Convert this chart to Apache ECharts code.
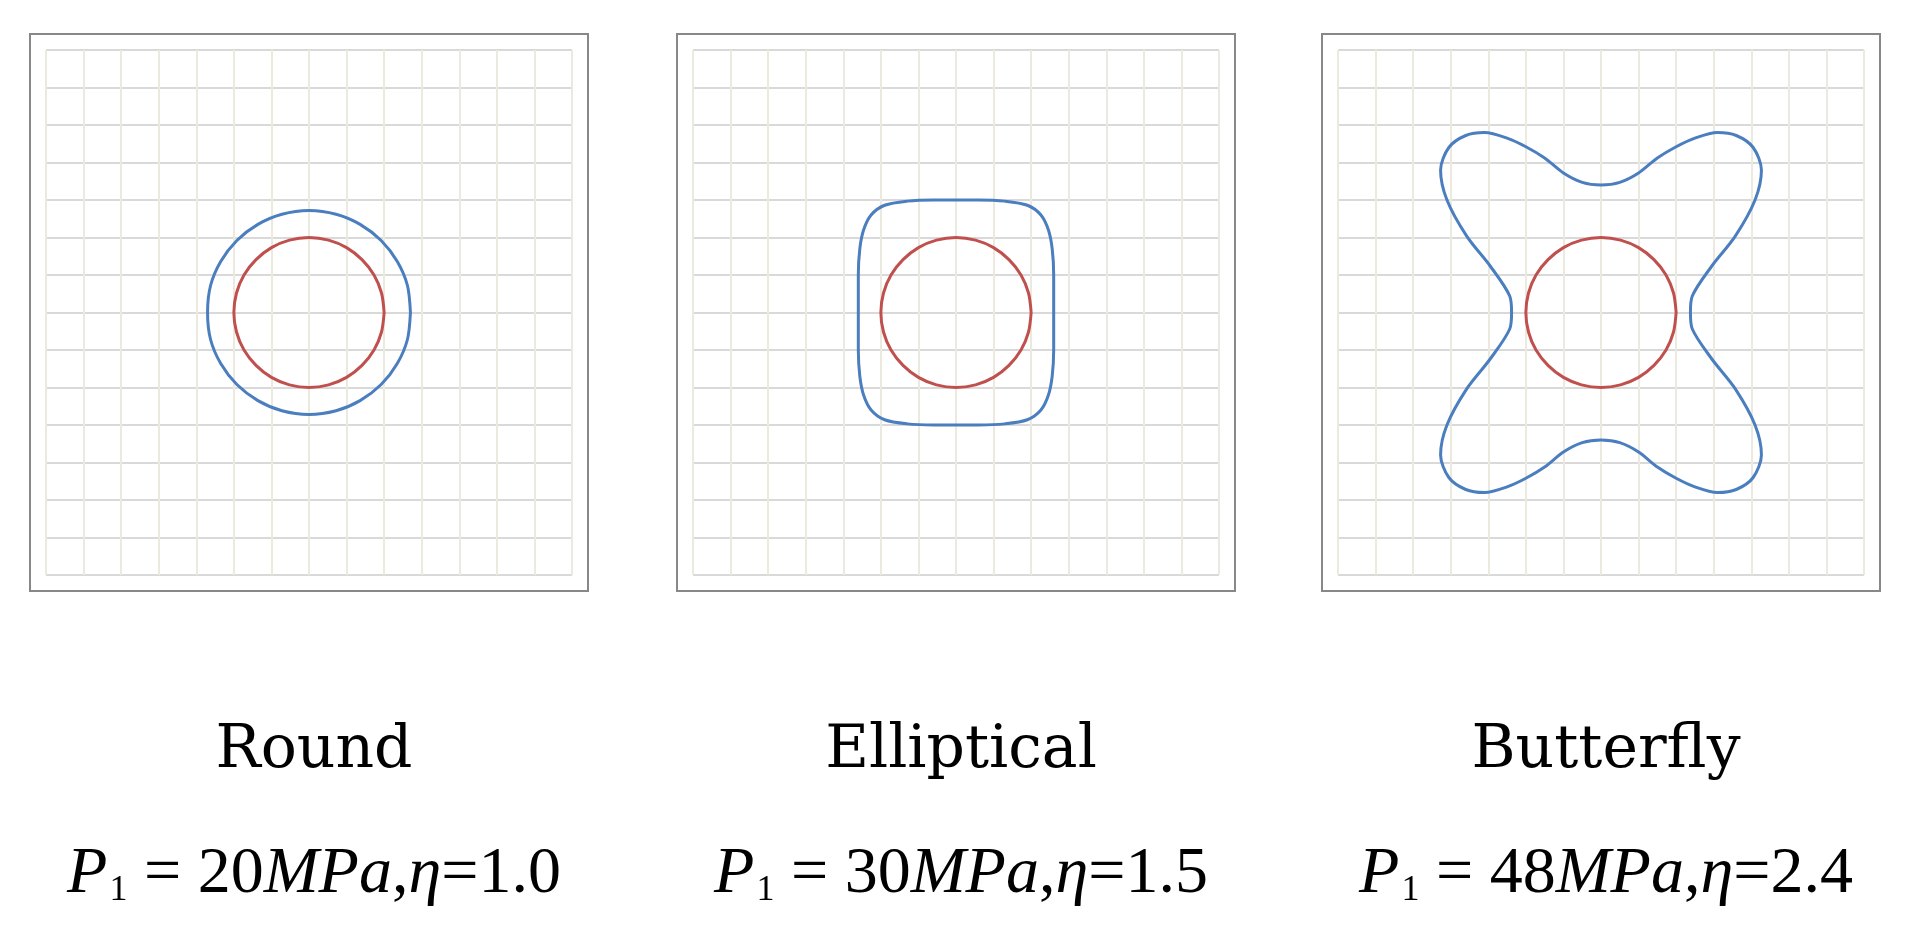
<!DOCTYPE html>
<html>
<head>
<meta charset="utf-8">
<script src="https://cdn.jsdelivr.net/npm/echarts@6/dist/echarts.min.js"></script>
<style>html,body{margin:0;padding:0;background:#fff}#main{width:1916px;height:926px}</style>
</head>
<body>
<div id="main"></div>
<script>
// first-quadrant outlines, in grid units (one cell = 1)
const holeQuad = [[2, 0], [1.93, 0.52], [1.73, 1], [1.41, 1.41], [1, 1.73], [0.52, 1.93], [0, 2]]
const roundQuad = [[2.7, 0], [2.62, 0.72], [2.35, 1.36], [1.92, 1.92], [1.36, 2.35], [0.72, 2.62], [0, 2.72]]
const ellipQuad = [[2.6, 0], [2.6, 1.0], [2.56, 1.7], [2.46, 2.2], [2.26, 2.6], [1.9, 2.86], [1.3, 2.97], [0.6, 3.0], [0, 3.0]]
const butterQuad = [[2.38, 0], [2.43, 0.44], [2.95, 1.24], [3.57, 2.03], [4.1, 3.0], [4.27, 3.8], [4.05, 4.4],
    [3.6, 4.72], [3.1, 4.8], [2.5, 4.65], [2.0, 4.42], [1.5, 4.12], [1.0, 3.72], [0.5, 3.47], [0, 3.4]]

const names = ['Round', 'Elliptical', 'Butterfly']
const pressures = ['20', '30', '48']
const etas = ['1.0', '1.5', '2.4']
const outlines = [roundQuad, ellipQuad, butterQuad]

// mirror a quadrant into a closed loop
function closeLoop(q) {
    let pts = q.slice()
    q.slice(0, -1).reverse().forEach(p => pts.push([-p[0], p[1]]))
    q.slice(1).forEach(p => pts.push([-p[0], -p[1]]))
    q.slice(1, -1).reverse().forEach(p => pts.push([p[0], -p[1]]))
    pts.push(q[0])
    return pts
}

const frameLefts = [30, 677, 1322]
const frameW = 558, frameTop = 34, frameH = 557
const inset = 16

const chart = echarts.init(document.getElementById('main'))
let grid = [], xAxis = [], yAxis = [], series = [], graphic = [], title = []
const serif = 'Liberation Serif'

frameLefts.forEach((fl, i) => {
    grid.push({ left: fl + inset, top: frameTop + inset, width: frameW - 2 * inset, height: frameH - 2 * inset })
    const ax = (color) => ({
        type: 'value', gridIndex: i, min: -7, max: 7, interval: 1,
        axisLine: { show: false }, axisTick: { show: false }, axisLabel: { show: false },
        splitLine: { show: true, lineStyle: { color: color, width: 2 } }
    })
    xAxis.push(ax('#ece9df'))
    yAxis.push(ax('#d9d9d9'))
    series.push({
        type: 'line', xAxisIndex: i, yAxisIndex: i, data: closeLoop(outlines[i]), smooth: 0.3,
        showSymbol: false, lineStyle: { color: '#4a7ebf', width: 3 }, silent: true
    })
    series.push({
        type: 'line', xAxisIndex: i, yAxisIndex: i, data: closeLoop(holeQuad), smooth: 0.3,
        showSymbol: false, lineStyle: { color: '#c0504d', width: 3 }, silent: true
    })
    graphic.push({
        type: 'rect', shape: { x: fl, y: frameTop, width: frameW, height: frameH },
        style: { fill: 'none', stroke: '#888', lineWidth: 2 }, z: 10
    })
    const cx = fl + frameW / 2
    title.push({
        text: names[i], left: cx, top: 716, textAlign: 'center',
        textStyle: { fontFamily: 'DejaVu Serif', fontSize: 60, fontWeight: 'normal', color: '#000' }
    })
    title.push({
        text: '{i|P}{s|1}{n| = ' + pressures[i] + '}{i|MPa}{n|,}{i|η}{n|=' + etas[i] + '}',
        left: cx, top: 836, textAlign: 'center',
        textStyle: {
            fontFamily: serif, fontWeight: 'normal', fontSize: 66,
            rich: {
                i: { fontFamily: serif, fontStyle: 'italic', fontWeight: 'normal', fontSize: 66, color: '#000' },
                n: { fontFamily: serif, fontWeight: 'normal', fontSize: 66, color: '#000' },
                s: { fontFamily: serif, fontWeight: 'normal', fontSize: 36, color: '#000', padding: [32, 0, 0, 2] }
            }
        }
    })
})

chart.setOption({ animation: false, grid, xAxis, yAxis, series, graphic, title })
</script>
</body>
</html>
